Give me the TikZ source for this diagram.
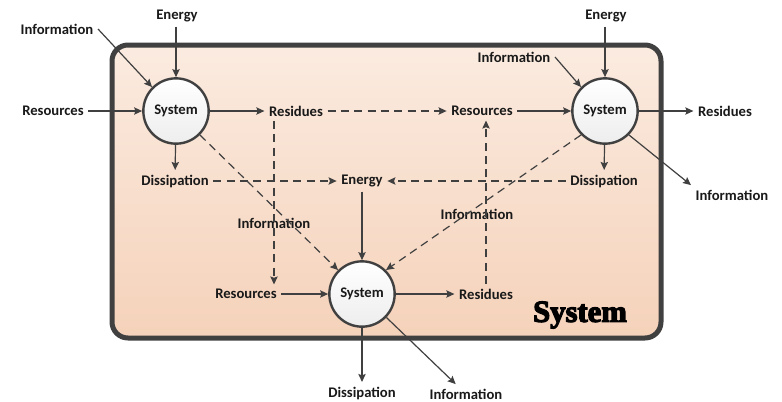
\documentclass[tikz,border=0pt]{standalone}
\usepackage{fontspec}
\setmainfont{Carlito}
\newfontfamily\heavyserif[BoldFeatures={FakeBold=4}]{Liberation Serif}
\usetikzlibrary{arrows.meta,shadows,calc}

\definecolor{linegray}{RGB}{64,64,64}
\definecolor{peachtop}{RGB}{251,235,224}
\definecolor{peachbot}{RGB}{245,210,186}

\begin{document}
\begin{tikzpicture}[x=0.75pt,y=-0.75pt,
  every node/.style={font=\bfseries\fontsize{11}{13}\selectfont,text=black!90},
  sys/.style={circle,draw=linegray,line width=1.8pt,minimum size=49pt,
    top color=white,bottom color=gray!14},
  flow/.style={draw=linegray,line width=0.9pt,
    -{Stealth[length=6pt,width=5.5pt,inset=1pt]}},
  link/.style={flow,dash pattern=on 6pt off 4pt}]

\useasboundingbox (0,0) rectangle (782,401);

% the enclosing system
\draw[line width=3.75pt,draw=linegray,rounded corners=12pt,
  top color=peachtop,bottom color=peachbot,
  drop shadow={shadow xshift=1.2pt,shadow yshift=-1.2pt,opacity=0.25}]
  (112,45) rectangle (661,338);
\node[font=\heavyserif\bfseries\fontsize{23}{25}\selectfont,text=black] (big) at (580,315) {System};

% flows
\foreach \nm/\x/\y/\txt in {
  infoA/57/29/Information, enA/177/16/Energy, resA/53/111/Resources,
  residA/296/111/Residues, dissA/175/181/Dissipation, enM/362/181/Energy,
  resM/482/111/Resources, infoB/514/57/Information, enB/606/16/Energy,
  residB/725/111/Residues, dissB/604/181/Dissipation, infoB2/732/195/Information,
  infoL/274/223/Information, infoR/477/214/Information, resC/246/294/Resources,
  residC/486/294/Residues, dissC/362/393/Dissipation, infoC/466/394/Information}
  \node (\nm) at (\x,\y) {\txt};

% subsystems
\node[sys] (sysA) at (176,111) {System};
\node[sys] (sysB) at (605,111) {System};
\node[sys] (sysC) at (362,294) {System};

% solid flows in and out
\draw[flow] (infoA.east) -- (sysA.135);
\draw[flow] (enA.south -| sysA) -- (sysA);
\draw[flow] (resA) -- (sysA);
\draw[flow] (sysA) -- (residA);
\draw[flow] (sysA) -- (dissA);

\draw[flow] (infoB.east) -- (sysB.135);
\draw[flow] (enB.south -| sysB) -- (sysB);
\draw[flow] (resM) -- (sysB);
\draw[flow] (sysB) -- (residB);
\draw[flow] (sysB) -- (dissB);
\draw[flow] (sysB.-45) -- (infoB2.north west);

\draw[flow] (enM) -- (sysC);
\draw[flow] (resC) -- (sysC);
\draw[flow] (sysC) -- (residC);
\draw[flow] (sysC) -- (dissC);
\draw[flow] (sysC) -- (infoC);

% dashed exchanges
\draw[link] (dissA) -- (enM);
\draw[link] (dissB) -- (enM);
\draw[link] (residA) -- (resM);
\draw[link] (residA.south -| infoL) -- (resC.north -| infoL);
\draw[link] (residC.north) -- (residC.north |- resM.south);
\draw[link] (sysA.-45) -- (sysC.135);
\draw[link] (sysB.-135) -- (sysC.45);

\end{tikzpicture}
\end{document}
